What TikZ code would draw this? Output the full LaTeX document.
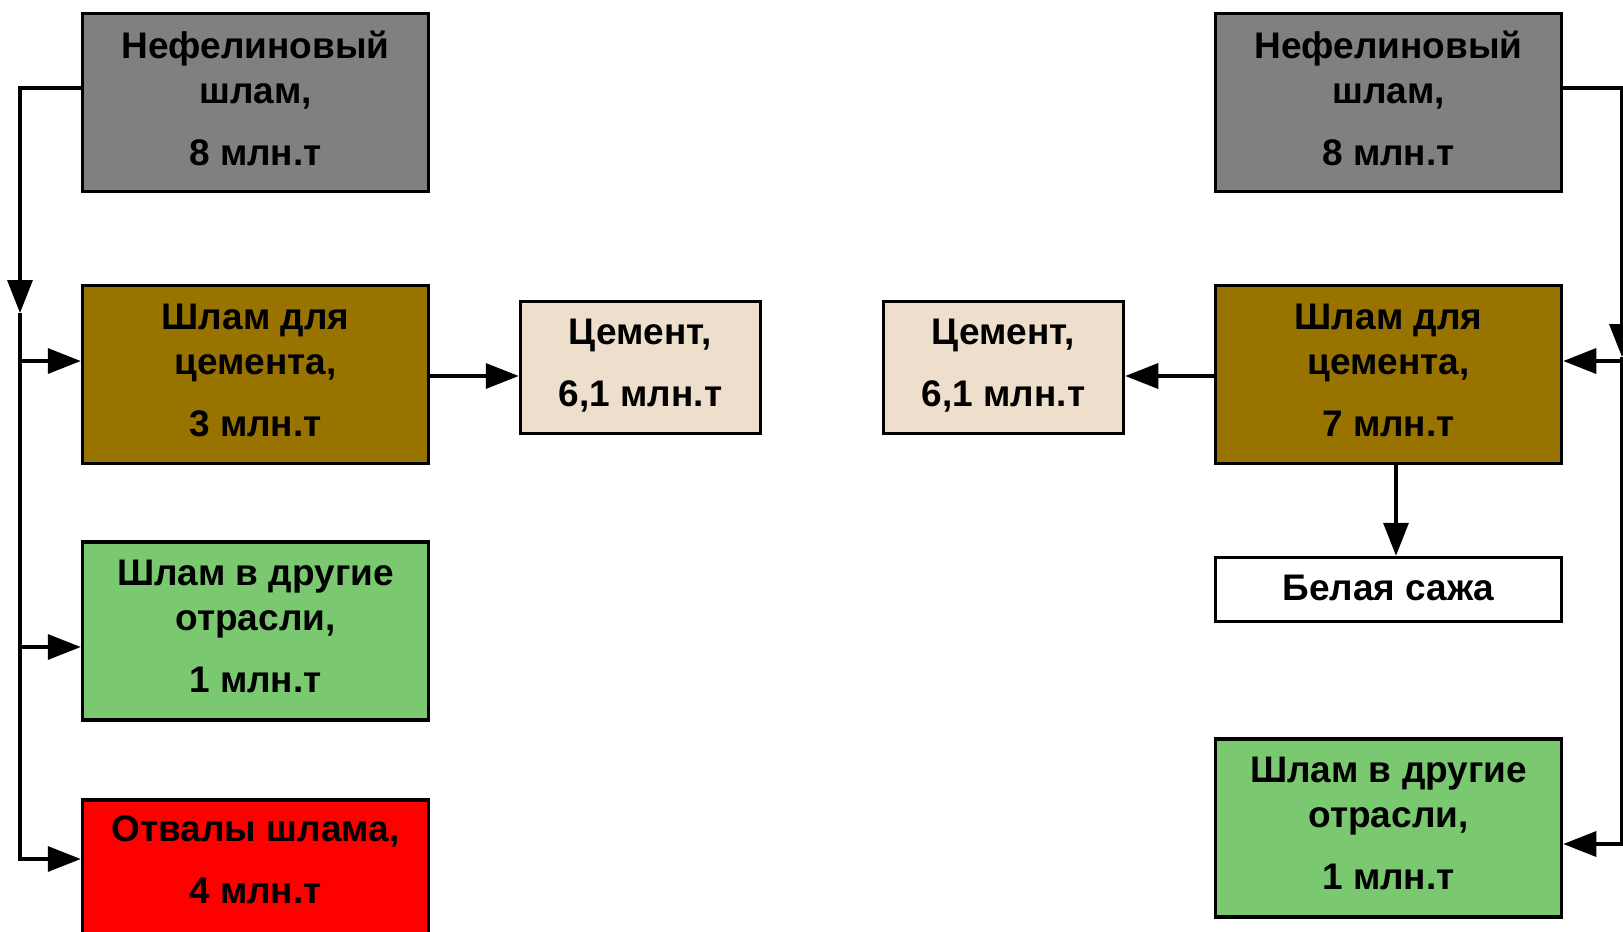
\documentclass[tikz,border=0pt]{standalone}
\usepackage{fontspec}
\setmainfont{Liberation Sans}
\usetikzlibrary{arrows.meta}
\definecolor{cgray}{HTML}{808080}
\definecolor{cbrown}{HTML}{997300}
\definecolor{cbeige}{HTML}{EEDFCC}
\definecolor{cgreen}{HTML}{7AC86F}
\definecolor{cred}{HTML}{FF0000}
\newcommand\lowstrut{\rule[-9pt]{0pt}{0pt}}
\newcommand\smallstrut{\rule[-4pt]{0pt}{0pt}}
\newcommand\commastrut{\rule[-10pt]{0pt}{0pt}}
\begin{document}
\begin{tikzpicture}[x=1pt,y=-1pt,
  box/.style={draw=black, line width=3.5pt, inner sep=0pt, align=center,
    font=\fontsize{37}{45}\selectfont\bfseries, minimum width=346pt, minimum height=178pt},
  conn/.style={line width=3.5pt},
  arr/.style={conn, -{Triangle[length=33pt,width=25pt]}}]
\useasboundingbox (0,0) rectangle (1623,932);
% left column
\node[box, fill=cgray] (lt) at (255.5,102.5) {Нефелиновый\\шлам,\\[17pt]8 млн.т\lowstrut};
\node[box, fill=cbrown] (ls) at (255.5,374.5) {Шлам для\\цемента,\\[17pt]3 млн.т\lowstrut};
\node[box, fill=cbeige, minimum width=240pt, minimum height=132pt] (lc) at (640.5,367.5) {Цемент,\\[17pt]6,1 млн.т\commastrut};
\node[box, fill=cgreen] (lg) at (255.5,631) {Шлам в другие\\отрасли,\\[17pt]1 млн.т\lowstrut};
\node[box, fill=cred] (lr) at (255.5,888.75) {Отвалы шлама,\\[17pt]4 млн.т\\[14pt]\mbox{}};
% right column
\node[box, fill=cgray] (rt) at (1388.5,102.5) {Нефелиновый\\шлам,\\[17pt]8 млн.т\lowstrut};
\node[box, fill=cbrown] (rs) at (1388.5,374.5) {Шлам для\\цемента,\\[17pt]7 млн.т\lowstrut};
\node[box, fill=cbeige, minimum width=240pt, minimum height=132pt] (rc) at (1003.5,367.5) {Цемент,\\[17pt]6,1 млн.т\commastrut};
\node[box, fill=white, minimum height=64pt] (rw) at (1388.5,589.5) {Белая сажа\smallstrut};
\node[box, fill=cgreen] (rg) at (1388.5,828) {Шлам в другие\\отрасли,\\[17pt]1 млн.т\lowstrut};
% left connectors
\coordinate (l0) at (20,88);
\coordinate (l1) at (20,313);
\coordinate (l2) at (20,361);
\coordinate (l3) at (20,647);
\coordinate (l4) at (20,859);
\coordinate (lm) at (475,376);
\draw[arr] (lt.west |- l0) -- (l0) -- (l1);
\draw[arr] (l1) -- (l4) -- (lr.west |- l4);
\draw[arr] (l2) -- (ls.west |- l2);
\draw[arr] (l3) -- (lg.west |- l3);
\draw[arr] (ls.east |- lm) -- (lc.west |- lm);
% right connectors
\coordinate (r0) at (1622,88);
\coordinate (r1) at (1622,357);
\coordinate (r2) at (1622,361);
\coordinate (r3) at (1622,844);
\coordinate (rm) at (1170,376);
\coordinate (rd) at (1396,500);
\draw[arr] (rt.east |- r0) -- (r0) -- (r1);
\draw[arr] (r1) -- (r3) -- (rg.east |- r3);
\draw[arr] (r2) -- (rs.east |- r2);
\draw[arr] (rs.west |- rm) -- (rc.east |- rm);
\draw[arr] (rs.south -| rd) -- (rw.north -| rd);
\end{tikzpicture}
\end{document}
